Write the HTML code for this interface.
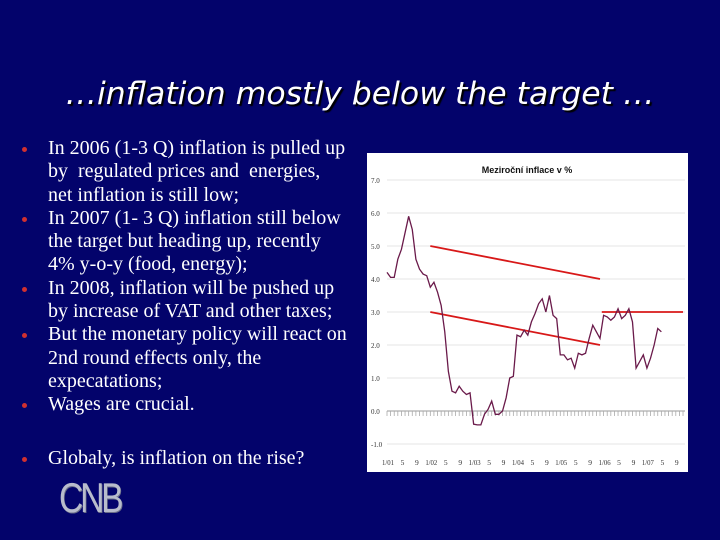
<!DOCTYPE html>
<html><head><meta charset="utf-8"><style>
body{margin:0;width:720px;height:540px;background:#03036b;overflow:hidden;position:relative;font-family:"Liberation Serif",serif}
#title{position:absolute;left:0;width:720px;top:76px;text-align:center;color:#fff;font-family:"DejaVu Sans",sans-serif;font-style:italic;font-size:31.5px;text-shadow:2px 2px 1px #000}
ul{position:absolute;left:20px;top:137px;margin:0;padding:0;list-style:none;width:340px;color:#fff;font-size:20px;line-height:23.3px;white-space:nowrap}
li{position:relative;padding-left:28px;margin-bottom:0}
li:before{content:"";position:absolute;left:2px;top:10px;width:5px;height:5px;border-radius:50%;background:#d03030}
#logo{position:absolute;left:59px;top:474px;color:#b8bccc;font-family:"Liberation Sans",sans-serif;font-size:42px;letter-spacing:-4px;transform:scaleX(0.8);transform-origin:left;text-shadow:1px 1px 0 #6a6e88}
#chart{position:absolute;left:367px;top:153px}
</style></head><body>
<div id="title">…inflation mostly below the target …</div>
<ul>
<li>In 2006 (1-3 Q) inflation is pulled up<br>by&nbsp; regulated prices and&nbsp; energies,<br>net inflation is still low;</li>
<li>In 2007 (1- 3 Q) inflation still below<br>the target but heading up, recently<br>4% y-o-y (food, energy);</li>
<li>In 2008, inflation will be pushed up<br>by increase of VAT and other taxes;</li>
<li>But the monetary policy will react on<br>2nd round effects only, the<br>expecatations;</li>
<li>Wages are crucial.</li>
<li style="margin-top:30px">Globaly, is inflation on the rise?</li>
</ul>
<div id="logo">CNB</div>
<svg id="chart" width="321" height="319"></svg>
<script>
const yTicks=[7,6,5,4,3,2,1,0,-1];
const xLabels=["1/01","5","9","1/02","5","9","1/03","5","9","1/04","5","9","1/05","5","9","1/06","5","9","1/07","5","9"];
const inflation=[4.2,4.05,4.05,4.6,4.9,5.4,5.9,5.5,4.6,4.3,4.15,4.1,3.75,3.9,3.6,3.2,2.4,1.2,0.6,0.55,0.75,0.6,0.5,0.55,-0.4,-0.42,-0.42,-0.1,0.05,0.3,-0.1,-0.1,0.0,0.4,1.0,1.05,2.3,2.25,2.45,2.3,2.7,2.95,3.25,3.4,3.0,3.5,2.9,2.8,1.7,1.7,1.55,1.6,1.3,1.75,1.7,1.75,2.2,2.6,2.4,2.2,2.9,2.85,2.75,2.85,3.1,2.8,2.9,3.1,2.7,1.3,1.5,1.7,1.3,1.6,2.0,2.5,2.4];
const targetBands=[[12,5,59,4],[12,3,59,2],[59.5,3,82,3]];
const ns="http://www.w3.org/2000/svg";
const svg=document.getElementById("chart");
const X=m=>20+m*3.61, Y=v=>258-v*33;
function mk(t,a){const e=document.createElementNS(ns,t);for(const k in a)e.setAttribute(k,a[k]);svg.appendChild(e);return e;}
let e=mk("rect",{x:0,y:0,width:321,height:319,fill:"#fff"});


e=mk("text",{x:160,y:20,"font-size":"9","font-family":"Liberation Sans, sans-serif","font-weight":"bold","text-anchor":"middle",fill:"#111"});e.textContent="Meziroční inflace v %";


yTicks.forEach(v=>{
 let g=mk("line",{x1:20,x2:318,y1:Y(v),y2:Y(v),stroke:"#e4e4e4","stroke-width":1});
 
 
 let t=mk("text",{x:4,y:Y(v)+3,"font-size":"7","font-family":"Liberation Serif, serif",fill:"#333"});t.textContent=v.toFixed(1);
 
 
});
e=mk("line",{x1:20,x2:318,y1:Y(0),y2:Y(0),stroke:"#999","stroke-width":1});


for(let m=0;m<=82;m++){let t=mk("line",{x1:X(m),x2:X(m),y1:Y(0),y2:Y(0)+5,stroke:"#aaa","stroke-width":0.8});}
xLabels.forEach((l,i)=>{let t=mk("text",{x:X(i*4)+1,y:312,"font-size":"7.5","font-family":"Liberation Serif, serif","text-anchor":"middle",fill:"#333"});t.textContent=l;
 if(l.length>2){t.setAttribute("textLength","12");t.setAttribute("lengthAdjust","spacingAndGlyphs");}
 
 });
targetBands.forEach(b=>{let t=mk("line",{x1:X(b[0]),y1:Y(b[1]),x2:X(b[2]),y2:Y(b[3]),stroke:"#d81818","stroke-width":1.8});
 
 });
e=mk("polyline",{points:inflation.map((v,i)=>X(i)+","+Y(v)).join(" "),fill:"none",stroke:"#6a1a4a","stroke-width":1.3});


</script>
</body></html>
